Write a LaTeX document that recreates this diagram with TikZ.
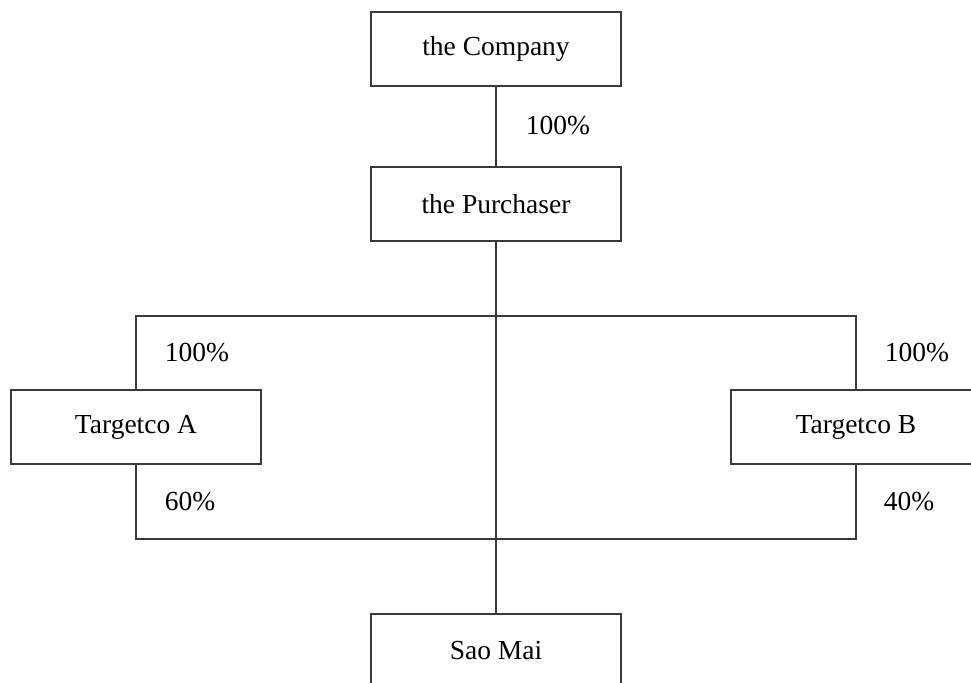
\documentclass[tikz,border=0pt]{standalone}
\usepackage{fontspec}
\setmainfont{Liberation Serif}
\definecolor{linegray}{HTML}{3A3A3A}
\tikzset{
    entity/.style={draw=linegray, line width=0.6pt, rectangle, minimum width=100pt, minimum height=29.6pt, inner sep=0pt, fill=white},
    link/.style={draw=linegray, line width=0.6pt},
    pct/.style={inner sep=0pt}
}
\begin{document}
\begin{tikzpicture}[x=0.4pt, y=-0.4pt, font=\fontsize{11}{13}\selectfont]
    % --- Khung hình ---
    \useasboundingbox (0,0) rectangle (971,682);
    \clip (0,0) rectangle (971,682);

    % --- Các node công ty ---
    \node[entity] (company) at (496, 49) {the Company};
    \node[entity] (purchaser) at (496, 204) {the Purchaser};
    \node[entity] (targetA) at (136, 427) {Targetco A};
    \node[entity] (targetB) at (856, 427) {Targetco B};
    \node[entity] (saomai) at (496, 651) {Sao Mai};

    % --- Điểm nối trên đường ngang ---
    \coordinate (bustop) at (496, 316);
    \coordinate (busbot) at (496, 539);

    % --- Các đường sở hữu ---
    \draw[link] (company) -- (purchaser);
    \draw[link] (purchaser) -- (saomai);
    \draw[link] (targetA.north) |- (bustop) -| (targetB.north);
    \draw[link] (targetA.south) |- (busbot) -| (targetB.south);

    % --- Tỷ lệ sở hữu ---
    \node[pct] (p1) at (558, 126) {100\%};
    \node[pct] (p2) at (197, 353) {100\%};
    \node[pct] (p3) at (917, 353) {100\%};
    \node[pct] (p4) at (190, 502) {60\%};
    \node[pct] (p5) at (909, 502) {40\%};
\end{tikzpicture}
\end{document}
